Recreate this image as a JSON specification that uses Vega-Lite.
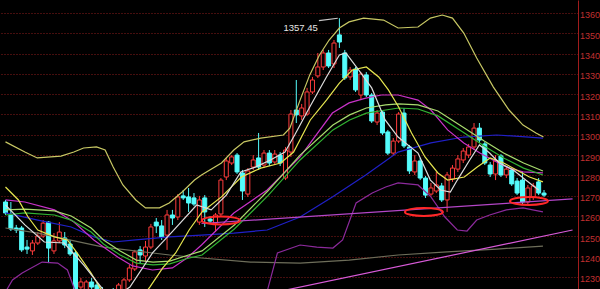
{
  "$schema": "https://vega.github.io/schema/vega-lite/v6.json",
  "width": 578,
  "height": 289,
  "autosize": {"type": "none"},
  "padding": {"left": 0, "top": 0, "right": 22, "bottom": 0},
  "background": "#000000",
  "config": {
    "view": {"stroke": null},
    "axisY": {"orient":"right",
      "title":null,"grid":true,"gridColor":"#8c1c1c","gridDash":[1,2],"gridWidth":1,
      "domain":true,"domainColor":"#a01c1c","domainWidth":1,"ticks":false,"labelOverlap":false,
      "labelColor":"#c03030","labelFont":"Liberation Sans","labelFontSize":9,"labelPadding":1.5,"labelOffset":2,"labelAlign":"left","labelBaseline":"middle"}
  },
  "resolve": {"scale": {"color": "independent"}},
  "datasets": {
    "candles": [
      {"i":0,"o":1266.9,"h":1267.9,"l":1260.5,"c":1261.5,"d":"d"},
      {"i":1,"o":1260.5,"h":1266.9,"l":1252.6,"c":1253.6,"d":"d"},
      {"i":2,"o":1254.1,"h":1255.6,"l":1251.6,"c":1253.1,"d":"d"},
      {"i":3,"o":1254.1,"h":1255.1,"l":1242.3,"c":1243.3,"d":"d"},
      {"i":4,"o":1244.7,"h":1248.2,"l":1241.3,"c":1243.7,"d":"d"},
      {"i":5,"o":1242.8,"h":1248.2,"l":1240.8,"c":1246.7,"d":"u"},
      {"i":6,"o":1246.7,"h":1252.1,"l":1245.7,"c":1250.1,"d":"u"},
      {"i":7,"o":1250.1,"h":1258.0,"l":1249.2,"c":1256.5,"d":"u"},
      {"i":8,"o":1257.0,"h":1257.5,"l":1236.8,"c":1244.2,"d":"d"},
      {"i":9,"o":1242.8,"h":1251.6,"l":1241.3,"c":1247.7,"d":"u"},
      {"i":10,"o":1247.7,"h":1257.0,"l":1246.7,"c":1252.1,"d":"u"},
      {"i":11,"o":1249.2,"h":1252.1,"l":1244.2,"c":1245.7,"d":"d"},
      {"i":12,"o":1246.2,"h":1248.2,"l":1240.3,"c":1241.3,"d":"d"},
      {"i":13,"o":1241.8,"h":1242.8,"l":1219.6,"c":1221.1,"d":"d"},
      {"i":14,"o":1225.0,"h":1229.5,"l":1222.6,"c":1227.5,"d":"u"},
      {"i":15,"o":1223.5,"h":1228.5,"l":1222.1,"c":1227.5,"d":"u"},
      {"i":16,"o":1227.5,"h":1229.5,"l":1224.0,"c":1225.0,"d":"d"},
      {"i":17,"o":1226.0,"h":1227.0,"l":1220.6,"c":1222.6,"d":"d"},
      {"i":18,"o":1223.5,"h":1225.0,"l":1218.6,"c":1219.6,"d":"d"},
      {"i":19,"o":1219.6,"h":1223.5,"l":1217.6,"c":1222.6,"d":"u"},
      {"i":20,"o":1223.5,"h":1224.5,"l":1218.6,"c":1220.6,"d":"d"},
      {"i":21,"o":1222.1,"h":1227.0,"l":1220.6,"c":1226.0,"d":"u"},
      {"i":22,"o":1223.5,"h":1229.5,"l":1222.6,"c":1228.5,"d":"u"},
      {"i":23,"o":1228.5,"h":1235.9,"l":1227.5,"c":1234.4,"d":"u"},
      {"i":24,"o":1233.9,"h":1243.3,"l":1232.9,"c":1242.3,"d":"u"},
      {"i":25,"o":1243.3,"h":1245.2,"l":1236.8,"c":1240.8,"d":"d"},
      {"i":26,"o":1240.3,"h":1247.7,"l":1237.3,"c":1244.7,"d":"u"},
      {"i":27,"o":1244.7,"h":1256.1,"l":1243.7,"c":1254.6,"d":"u"},
      {"i":28,"o":1257.0,"h":1259.0,"l":1251.6,"c":1255.1,"d":"d"},
      {"i":29,"o":1255.1,"h":1258.0,"l":1248.2,"c":1249.7,"d":"d"},
      {"i":30,"o":1250.6,"h":1263.0,"l":1243.3,"c":1260.5,"d":"u"},
      {"i":31,"o":1260.5,"h":1263.0,"l":1255.6,"c":1259.0,"d":"d"},
      {"i":32,"o":1259.5,"h":1270.8,"l":1258.0,"c":1269.4,"d":"u"},
      {"i":33,"o":1269.9,"h":1272.8,"l":1267.9,"c":1268.9,"d":"d"},
      {"i":34,"o":1269.4,"h":1273.8,"l":1262.0,"c":1266.4,"d":"d"},
      {"i":35,"o":1268.9,"h":1271.3,"l":1264.9,"c":1265.9,"d":"d"},
      {"i":36,"o":1257.0,"h":1269.9,"l":1255.6,"c":1267.9,"d":"u"},
      {"i":37,"o":1268.9,"h":1270.3,"l":1254.6,"c":1262.0,"d":"d"},
      {"i":38,"o":1258.5,"h":1260.0,"l":1256.1,"c":1257.5,"d":"d"},
      {"i":39,"o":1256.5,"h":1261.5,"l":1252.1,"c":1260.5,"d":"u"},
      {"i":40,"o":1261.0,"h":1278.7,"l":1260.0,"c":1277.7,"d":"u"},
      {"i":41,"o":1279.2,"h":1288.6,"l":1277.7,"c":1287.1,"d":"u"},
      {"i":42,"o":1286.1,"h":1290.0,"l":1285.1,"c":1289.1,"d":"u"},
      {"i":43,"o":1290.0,"h":1291.0,"l":1280.7,"c":1281.7,"d":"d"},
      {"i":44,"o":1281.2,"h":1282.7,"l":1267.9,"c":1272.3,"d":"d"},
      {"i":45,"o":1270.8,"h":1283.6,"l":1269.4,"c":1282.2,"d":"u"},
      {"i":46,"o":1284.1,"h":1290.0,"l":1282.7,"c":1287.6,"d":"u"},
      {"i":47,"o":1288.6,"h":1300.9,"l":1282.7,"c":1284.1,"d":"d"},
      {"i":48,"o":1285.1,"h":1292.5,"l":1283.6,"c":1291.0,"d":"u"},
      {"i":49,"o":1291.0,"h":1292.5,"l":1284.6,"c":1286.1,"d":"d"},
      {"i":50,"o":1286.6,"h":1292.5,"l":1285.1,"c":1290.5,"d":"u"},
      {"i":51,"o":1290.0,"h":1291.5,"l":1284.6,"c":1286.1,"d":"d"},
      {"i":52,"o":1278.7,"h":1294.0,"l":1277.7,"c":1292.5,"d":"u"},
      {"i":53,"o":1291.5,"h":1312.2,"l":1289.1,"c":1310.2,"d":"u"},
      {"i":54,"o":1312.2,"h":1327.0,"l":1305.8,"c":1309.8,"d":"d"},
      {"i":55,"o":1309.3,"h":1315.2,"l":1307.3,"c":1313.2,"d":"u"},
      {"i":56,"o":1310.2,"h":1323.1,"l":1309.3,"c":1321.1,"d":"u"},
      {"i":57,"o":1321.1,"h":1328.5,"l":1320.1,"c":1327.0,"d":"u"},
      {"i":58,"o":1329.0,"h":1340.3,"l":1328.0,"c":1333.4,"d":"u"},
      {"i":59,"o":1333.4,"h":1341.8,"l":1331.9,"c":1340.3,"d":"u"},
      {"i":60,"o":1340.3,"h":1341.8,"l":1332.9,"c":1333.9,"d":"d"},
      {"i":61,"o":1334.9,"h":1346.7,"l":1332.9,"c":1345.2,"d":"u"},
      {"i":62,"o":1349.2,"h":1357.45,"l":1342.8,"c":1345.7,"d":"d"},
      {"i":63,"o":1340.3,"h":1341.8,"l":1327.0,"c":1328.0,"d":"d"},
      {"i":64,"o":1328.5,"h":1333.4,"l":1327.0,"c":1331.9,"d":"u"},
      {"i":65,"o":1332.4,"h":1333.4,"l":1321.1,"c":1322.1,"d":"d"},
      {"i":66,"o":1319.6,"h":1330.9,"l":1317.1,"c":1329.9,"d":"u"},
      {"i":67,"o":1329.5,"h":1330.9,"l":1318.6,"c":1319.6,"d":"d"},
      {"i":68,"o":1319.6,"h":1320.6,"l":1305.8,"c":1306.8,"d":"d"},
      {"i":69,"o":1306.3,"h":1312.2,"l":1304.8,"c":1310.7,"d":"u"},
      {"i":70,"o":1311.2,"h":1312.2,"l":1299.9,"c":1300.9,"d":"d"},
      {"i":71,"o":1301.4,"h":1302.4,"l":1290.0,"c":1291.0,"d":"d"},
      {"i":72,"o":1291.0,"h":1298.4,"l":1289.6,"c":1296.9,"d":"u"},
      {"i":73,"o":1296.9,"h":1311.2,"l":1295.9,"c":1310.2,"d":"u"},
      {"i":74,"o":1310.7,"h":1313.2,"l":1293.5,"c":1294.5,"d":"d"},
      {"i":75,"o":1294.0,"h":1295.0,"l":1280.7,"c":1282.2,"d":"d"},
      {"i":76,"o":1281.7,"h":1290.0,"l":1280.2,"c":1287.1,"d":"u"},
      {"i":77,"o":1287.1,"h":1288.6,"l":1277.7,"c":1278.7,"d":"d"},
      {"i":78,"o":1278.7,"h":1279.7,"l":1268.9,"c":1270.3,"d":"d"},
      {"i":79,"o":1270.8,"h":1276.3,"l":1269.9,"c":1273.8,"d":"u"},
      {"i":80,"o":1272.3,"h":1281.7,"l":1271.3,"c":1275.3,"d":"u"},
      {"i":81,"o":1274.8,"h":1276.3,"l":1266.9,"c":1267.9,"d":"d"},
      {"i":82,"o":1267.9,"h":1281.7,"l":1262.0,"c":1280.2,"d":"u"},
      {"i":83,"o":1278.2,"h":1285.1,"l":1276.8,"c":1283.6,"d":"u"},
      {"i":84,"o":1283.1,"h":1290.0,"l":1281.7,"c":1288.1,"d":"u"},
      {"i":85,"o":1287.6,"h":1293.5,"l":1286.1,"c":1292.0,"d":"u"},
      {"i":86,"o":1290.0,"h":1295.5,"l":1288.6,"c":1294.0,"d":"u"},
      {"i":87,"o":1294.0,"h":1305.8,"l":1292.5,"c":1303.3,"d":"u"},
      {"i":88,"o":1303.3,"h":1305.8,"l":1295.9,"c":1297.4,"d":"d"},
      {"i":89,"o":1295.5,"h":1296.4,"l":1285.1,"c":1286.1,"d":"d"},
      {"i":90,"o":1285.1,"h":1286.6,"l":1279.2,"c":1280.7,"d":"d"},
      {"i":91,"o":1280.7,"h":1290.0,"l":1277.7,"c":1287.1,"d":"u"},
      {"i":92,"o":1289.6,"h":1290.5,"l":1279.2,"c":1280.2,"d":"d"},
      {"i":93,"o":1280.2,"h":1284.6,"l":1278.7,"c":1283.1,"d":"u"},
      {"i":94,"o":1282.7,"h":1283.6,"l":1274.8,"c":1275.8,"d":"d"},
      {"i":95,"o":1277.2,"h":1278.7,"l":1270.3,"c":1271.3,"d":"d"},
      {"i":96,"o":1277.7,"h":1281.7,"l":1265.4,"c":1266.9,"d":"d"},
      {"i":97,"o":1266.9,"h":1275.3,"l":1265.4,"c":1273.8,"d":"u"},
      {"i":98,"o":1269.4,"h":1276.3,"l":1267.9,"c":1274.8,"d":"u"},
      {"i":99,"o":1276.8,"h":1278.7,"l":1270.3,"c":1271.3,"d":"d"},
      {"i":100,"o":1271.3,"h":1272.8,"l":1269.4,"c":1270.3,"d":"d"}
    ],
    "lines": [
      {"s":"GR","i":0,"v":1254.1},{"s":"GR","i":6.0,"v":1251.6},{"s":"GR","i":18.2,"v":1244.7},{"s":"GR","i":30.5,"v":1240.8},{"s":"GR","i":36.4,"v":1239.3},{"s":"GR","i":45.5,"v":1237.3},{"s":"GR","i":54.7,"v":1236.8},{"s":"GR","i":63.8,"v":1238.3},{"s":"GR","i":72.9,"v":1240.8},{"s":"GR","i":82.0,"v":1242.3},{"s":"GR","i":91.2,"v":1243.7},{"s":"GR","i":99.8,"v":1245.2},

      {"s":"B","i":0,"v":1261.5},{"s":"B","i":6.0,"v":1258.0},{"s":"B","i":12.2,"v":1254.6},{"s":"B","i":16.4,"v":1249.7},{"s":"B","i":20.0,"v":1247.2},{"s":"B","i":24.2,"v":1248.2},{"s":"B","i":30.4,"v":1249.7},{"s":"B","i":36.4,"v":1250.6},{"s":"B","i":42.4,"v":1251.6},{"s":"B","i":48.6,"v":1253.1},{"s":"B","i":54.7,"v":1259.5},{"s":"B","i":60.7,"v":1269.4},{"s":"B","i":66.9,"v":1280.2},{"s":"B","i":72.9,"v":1291.5},{"s":"B","i":79.0,"v":1296.0},{"s":"B","i":85.1,"v":1298.9},{"s":"B","i":91.2,"v":1299.9},{"s":"B","i":97.2,"v":1298.9},{"s":"B","i":99.8,"v":1298.4},

      {"s":"LB","i":0,"v":1222.6},{"s":"LB","i":1.3,"v":1228.5},{"s":"LB","i":3.1,"v":1231.9},{"s":"LB","i":6.8,"v":1237.3},{"s":"LB","i":9.7,"v":1236.8},{"s":"LB","i":11.5,"v":1233.4},{"s":"LB","i":12.8,"v":1224.0},{"s":"LB","i":13.7,"v":1218.6},{"s":"LB","i":31.0,"v":1198.9},{"s":"LB","i":47.4,"v":1218.6},{"s":"LB","i":48.7,"v":1224.0},{"s":"LB","i":50.5,"v":1241.8},{"s":"LB","i":54.7,"v":1245.7},{"s":"LB","i":57.8,"v":1244.7},{"s":"LB","i":60.8,"v":1244.2},{"s":"LB","i":62.6,"v":1248.2},{"s":"LB","i":65.1,"v":1266.4},{"s":"LB","i":68.1,"v":1271.3},{"s":"LB","i":70.6,"v":1274.3},{"s":"LB","i":72.9,"v":1276.3},{"s":"LB","i":76.6,"v":1275.3},{"s":"LB","i":79.0,"v":1269.4},{"s":"LB","i":81.6,"v":1259.5},{"s":"LB","i":83.9,"v":1253.1},{"s":"LB","i":85.7,"v":1252.6},{"s":"LB","i":87.5,"v":1258.0},{"s":"LB","i":89.9,"v":1260.5},{"s":"LB","i":93.0,"v":1263.0},{"s":"LB","i":96.1,"v":1264.0},{"s":"LB","i":97.9,"v":1263.0},{"s":"LB","i":99.8,"v":1262.0},

      {"s":"M","i":0,"v":1267.9},{"s":"M","i":3.6,"v":1266.9},{"s":"M","i":9.1,"v":1263.0},{"s":"M","i":12.7,"v":1257.0},{"s":"M","i":16.4,"v":1248.2},{"s":"M","i":18.2,"v":1244.7},{"s":"M","i":20.9,"v":1239.7},{"s":"M","i":23.6,"v":1235.4},{"s":"M","i":27.3,"v":1233.4},{"s":"M","i":31.0,"v":1234.4},{"s":"M","i":33.7,"v":1239.3},{"s":"M","i":36.4,"v":1245.7},{"s":"M","i":42.4,"v":1261.5},{"s":"M","i":48.6,"v":1272.8},{"s":"M","i":54.7,"v":1289.1},{"s":"M","i":60.7,"v":1310.7},{"s":"M","i":63.8,"v":1315.7},{"s":"M","i":66.9,"v":1318.1},{"s":"M","i":69.8,"v":1319.6},{"s":"M","i":72.9,"v":1319.6},{"s":"M","i":76.6,"v":1317.1},{"s":"M","i":79.0,"v":1312.2},{"s":"M","i":82.1,"v":1302.4},{"s":"M","i":85.1,"v":1296.0},{"s":"M","i":88.1,"v":1291.0},{"s":"M","i":91.2,"v":1286.6},{"s":"M","i":93.5,"v":1283.6},{"s":"M","i":96.1,"v":1281.7},{"s":"M","i":99.8,"v":1281.2},

      {"s":"G","i":0,"v":1260.5},{"s":"G","i":3.6,"v":1261.5},{"s":"G","i":9.1,"v":1260.5},{"s":"G","i":12.2,"v":1258.0},{"s":"G","i":15.9,"v":1252.1},{"s":"G","i":18.2,"v":1246.2},{"s":"G","i":21.3,"v":1240.8},{"s":"G","i":24.3,"v":1236.8},{"s":"G","i":27.4,"v":1235.9},{"s":"G","i":30.5,"v":1236.4},{"s":"G","i":33.4,"v":1238.8},{"s":"G","i":36.5,"v":1240.8},{"s":"G","i":42.5,"v":1253.6},{"s":"G","i":48.7,"v":1269.9},{"s":"G","i":54.7,"v":1287.6},{"s":"G","i":60.8,"v":1302.4},{"s":"G","i":63.9,"v":1307.3},{"s":"G","i":67.0,"v":1310.7},{"s":"G","i":70.6,"v":1312.2},{"s":"G","i":73.0,"v":1313.2},{"s":"G","i":76.6,"v":1312.7},{"s":"G","i":80.3,"v":1309.3},{"s":"G","i":85.2,"v":1300.9},{"s":"G","i":88.9,"v":1294.5},{"s":"G","i":92.5,"v":1288.6},{"s":"G","i":96.2,"v":1283.6},{"s":"G","i":99.8,"v":1280.2},

      {"s":"LG","i":0,"v":1263.0},{"s":"LG","i":3.6,"v":1263.4},{"s":"LG","i":9.1,"v":1262.5},{"s":"LG","i":12.2,"v":1260.0},{"s":"LG","i":15.9,"v":1254.1},{"s":"LG","i":18.2,"v":1248.2},{"s":"LG","i":21.3,"v":1242.8},{"s":"LG","i":24.3,"v":1238.3},{"s":"LG","i":27.4,"v":1237.3},{"s":"LG","i":30.5,"v":1237.8},{"s":"LG","i":33.4,"v":1240.3},{"s":"LG","i":36.5,"v":1242.8},{"s":"LG","i":42.5,"v":1255.6},{"s":"LG","i":48.7,"v":1272.3},{"s":"LG","i":54.7,"v":1290.0},{"s":"LG","i":60.8,"v":1304.8},{"s":"LG","i":63.9,"v":1309.8},{"s":"LG","i":67.0,"v":1313.2},{"s":"LG","i":70.6,"v":1314.7},{"s":"LG","i":73.0,"v":1315.2},{"s":"LG","i":76.6,"v":1314.7},{"s":"LG","i":80.3,"v":1311.7},{"s":"LG","i":85.2,"v":1303.3},{"s":"LG","i":88.9,"v":1296.9},{"s":"LG","i":92.5,"v":1291.0},{"s":"LG","i":96.2,"v":1286.1},{"s":"LG","i":99.8,"v":1282.2},

      {"s":"U","i":0,"v":1296.5},{"s":"U","i":3.6,"v":1291.5},{"s":"U","i":5.9,"v":1288.6},{"s":"U","i":10.3,"v":1289.5},{"s":"U","i":12.7,"v":1291.5},{"s":"U","i":14.5,"v":1293.5},{"s":"U","i":16.9,"v":1294.0},{"s":"U","i":18.5,"v":1292.5},{"s":"U","i":20.0,"v":1284.1},{"s":"U","i":21.8,"v":1275.3},{"s":"U","i":24.2,"v":1267.9},{"s":"U","i":26.0,"v":1264.0},{"s":"U","i":28.6,"v":1264.0},{"s":"U","i":30.4,"v":1266.4},{"s":"U","i":32.8,"v":1271.8},{"s":"U","i":35.1,"v":1277.7},{"s":"U","i":36.4,"v":1280.2},{"s":"U","i":40.1,"v":1286.1},{"s":"U","i":42.4,"v":1292.5},{"s":"U","i":44.3,"v":1296.5},{"s":"U","i":47.4,"v":1298.4},{"s":"U","i":51.6,"v":1299.9},{"s":"U","i":52.8,"v":1303.3},{"s":"U","i":54.7,"v":1317.1},{"s":"U","i":56.5,"v":1329.5},{"s":"U","i":58.3,"v":1339.3},{"s":"U","i":60.1,"v":1346.7},{"s":"U","i":62.0,"v":1352.6},{"s":"U","i":63.8,"v":1355.6},{"s":"U","i":66.5,"v":1357.5},{"s":"U","i":70.2,"v":1356.5},{"s":"U","i":72.9,"v":1352.6},{"s":"U","i":76.6,"v":1353.1},{"s":"U","i":78.9,"v":1357.5},{"s":"U","i":81.1,"v":1359.0},{"s":"U","i":83.0,"v":1357.5},{"s":"U","i":85.1,"v":1350.1},{"s":"U","i":87.5,"v":1337.8},{"s":"U","i":90.6,"v":1323.5},{"s":"U","i":93.5,"v":1312.2},{"s":"U","i":96.1,"v":1304.8},{"s":"U","i":98.5,"v":1300.9},{"s":"U","i":99.9,"v":1298.9},

      {"s":"Y","i":0,"v":1274.3},{"s":"Y","i":2.4,"v":1267.9},{"s":"Y","i":4.2,"v":1259.5},{"s":"Y","i":6.0,"v":1253.1},{"s":"Y","i":9.1,"v":1249.7},{"s":"Y","i":11.5,"v":1248.2},{"s":"Y","i":13.3,"v":1241.8},{"s":"Y","i":15.9,"v":1231.9},{"s":"Y","i":17.7,"v":1224.0},{"s":"Y","i":20.0,"v":1216.1},{"s":"Y","i":23.7,"v":1213.7},{"s":"Y","i":26.8,"v":1225.0},{"s":"Y","i":29.2,"v":1234.4},{"s":"Y","i":31.6,"v":1241.8},{"s":"Y","i":34.1,"v":1253.1},{"s":"Y","i":36.5,"v":1262.0},{"s":"Y","i":40.1,"v":1269.4},{"s":"Y","i":43.8,"v":1279.2},{"s":"Y","i":47.4,"v":1283.6},{"s":"Y","i":51.1,"v":1286.1},{"s":"Y","i":53.5,"v":1291.5},{"s":"Y","i":56.6,"v":1307.3},{"s":"Y","i":59.6,"v":1317.1},{"s":"Y","i":62.0,"v":1325.5},{"s":"Y","i":64.4,"v":1331.9},{"s":"Y","i":67.0,"v":1333.4},{"s":"Y","i":69.3,"v":1328.5},{"s":"Y","i":71.1,"v":1322.1},{"s":"Y","i":73.0,"v":1313.7},{"s":"Y","i":75.4,"v":1300.9},{"s":"Y","i":77.9,"v":1289.1},{"s":"Y","i":80.3,"v":1281.2},{"s":"Y","i":82.1,"v":1277.7},{"s":"Y","i":85.2,"v":1279.2},{"s":"Y","i":87.6,"v":1284.1},{"s":"Y","i":90.0,"v":1288.6},{"s":"Y","i":92.5,"v":1286.1},{"s":"Y","i":94.9,"v":1282.7},{"s":"Y","i":97.3,"v":1279.2},{"s":"Y","i":99.8,"v":1276.8},

      {"s":"W","i":0,"v":1265.4},{"s":"W","i":3.6,"v":1255.6},{"s":"W","i":7.2,"v":1247.2},{"s":"W","i":10.9,"v":1246.7},{"s":"W","i":14.5,"v":1235.9},{"s":"W","i":18.2,"v":1223.5},{"s":"W","i":20.9,"v":1221.1},{"s":"W","i":23.1,"v":1225.0},{"s":"W","i":27.3,"v":1241.8},{"s":"W","i":30.9,"v":1252.1},{"s":"W","i":35.5,"v":1265.4},{"s":"W","i":38.2,"v":1263.0},{"s":"W","i":41.0,"v":1270.3},{"s":"W","i":43.7,"v":1281.7},{"s":"W","i":46.4,"v":1284.1},{"s":"W","i":49.2,"v":1287.6},{"s":"W","i":51.9,"v":1291.5},{"s":"W","i":53.7,"v":1299.9},{"s":"W","i":56.5,"v":1313.7},{"s":"W","i":59.6,"v":1328.5},{"s":"W","i":62.0,"v":1339.3},{"s":"W","i":63.2,"v":1340.3},{"s":"W","i":65.6,"v":1331.9},{"s":"W","i":68.0,"v":1323.1},{"s":"W","i":70.5,"v":1307.3},{"s":"W","i":72.9,"v":1298.9},{"s":"W","i":76.6,"v":1291.0},{"s":"W","i":78.9,"v":1277.7},{"s":"W","i":80.8,"v":1272.8},{"s":"W","i":82.6,"v":1271.8},{"s":"W","i":83.9,"v":1277.7},{"s":"W","i":86.2,"v":1287.6},{"s":"W","i":88.0,"v":1295.0},{"s":"W","i":89.9,"v":1291.0},{"s":"W","i":91.7,"v":1286.1},{"s":"W","i":94.3,"v":1282.7},{"s":"W","i":96.6,"v":1277.7},{"s":"W","i":99.0,"v":1272.8},

      {"s":"L1","i":36.4,"v":1256.3},{"s":"L1","i":105.3,"v":1268.4},
      {"s":"L2","i":45.0,"v":1219.6},{"s":"L2","i":105.3,"v":1253.1},
      {"s":"C","i":58.2,"v":1356.2},{"s":"C","i":61.7,"v":1357.4}
    ],
    "marks": [
      {"i":40.0,"v":1257.8},
      {"i":77.7,"v":1262.0},
      {"i":97.2,"v":1267.4}
    ],
    "label": [
      {"i":54.8,"v":1352.4,"t":"1357.45"}
    ]
  },
  "encoding": {
    "x": {"field":"i","type":"quantitative","scale":{"domain":[-0.09,105.38],"nice":false,"zero":false},"axis":null}
  },
  "layer": [
    {
      "data": {"name":"candles"},
      "mark": {"type":"rule","strokeWidth":1,"clip":true},
      "encoding": {
        "y": {"field":"l","type":"quantitative","scale":{"domain":[1224.04,1366.4],"nice":false,"zero":false},
          "axis":{"values":[1230,1240,1250,1260,1270,1280,1290,1300,1310,1320,1330,1340,1350,1360],"format":"d","title":null}},
        "y2": {"field":"h"},
        "stroke": {"field":"d","type":"nominal","scale":{"domain":["u","d"],"range":["#ff3c3c","#54fcfc"]},"legend":null}
      }
    },
    {
      "data": {"name":"candles"},
      "mark": {"type":"bar","size":4,"strokeWidth":1,"clip":true,"orient":"vertical"},
      "encoding": {
        "y": {"field":"o","type":"quantitative","scale":{"domain":[1224.04,1366.4],"nice":false,"zero":false},
          "axis":{"values":[1230,1240,1250,1260,1270,1280,1290,1300,1310,1320,1330,1340,1350,1360],"format":"d","title":null}},
        "y2": {"field":"c"},
        "fill": {"field":"d","type":"nominal","scale":{"domain":["u","d"],"range":["#000000","#54fcfc"]},"legend":null},
        "stroke": {"field":"d","type":"nominal","scale":{"domain":["u","d"],"range":["#ff3c3c","#54fcfc"]},"legend":null}
      }
    },
    {
      "data": {"name":"lines"},
      "mark": {"type":"line","strokeWidth":1.2,"clip":true},
      "encoding": {
        "y": {"field":"v","type":"quantitative","scale":{"domain":[1224.04,1366.4],"nice":false,"zero":false},
          "axis":{"values":[1230,1240,1250,1260,1270,1280,1290,1300,1310,1320,1330,1340,1350,1360],"format":"d","title":null}},
        "color": {"field":"s","type":"nominal","scale":{"domain":["GR","B","LB","M","G","LG","U","Y","W","L1","L2","C"],
          "range":["#6e6e5a","#2020c8","#8c2a9c","#c832c8","#32b432","#a8dc6e","#c8c864","#e6e650","#dcdcdc","#b446c8","#d85ad8","#c8c8c8"]},"legend":null}
      }
    },
    {
      "data": {"name":"marks"},
      "mark": {"type":"point","shape":"M-1,0A1,0.21,0,1,0,1,0A1,0.21,0,1,0,-1,0Z","size":1444,"filled":false,"stroke":"#ff2828","strokeWidth":2,"opacity":1},
      "encoding": {
        "y": {"field":"v","type":"quantitative","scale":{"domain":[1224.04,1366.4],"nice":false,"zero":false},
          "axis":{"values":[1230,1240,1250,1260,1270,1280,1290,1300,1310,1320,1330,1340,1350,1360],"format":"d","title":null}}
      }
    },
    {
      "data": {"name":"label"},
      "mark": {"type":"text","color":"#e6e6e6","font":"Liberation Sans","fontSize":9.5,"align":"center","baseline":"middle"},
      "encoding": {
        "y": {"field":"v","type":"quantitative","scale":{"domain":[1224.04,1366.4],"nice":false,"zero":false},
          "axis":{"values":[1230,1240,1250,1260,1270,1280,1290,1300,1310,1320,1330,1340,1350,1360],"format":"d","title":null}},
        "text": {"field":"t","type":"nominal"}
      }
    }
  ]
}
